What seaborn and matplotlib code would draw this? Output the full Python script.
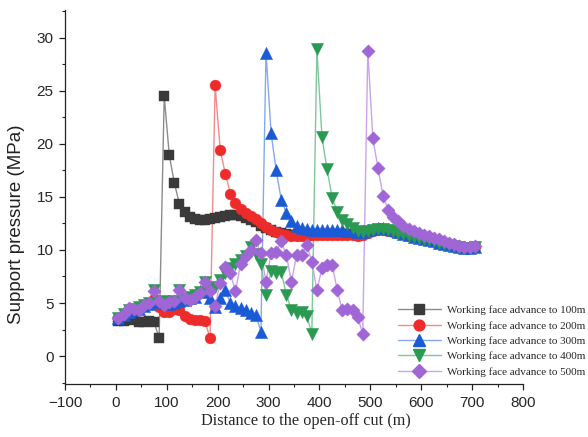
import numpy as np
import pandas as pd
import matplotlib
matplotlib.use("Agg")
import matplotlib.pyplot as plt
from matplotlib.lines import Line2D
from matplotlib.ticker import MultipleLocator
import seaborn as sns

# distance to the open-off cut (m), sampled every 10 m
distance = np.arange(5, 710, 10)

p_100 = [3.3, 3.3, 3.4, 3.5, 3.2, 3.2, 3.3, 3.2, 1.7, 24.5,
         18.9, 16.3, 14.3, 13.6, 13.1, 12.9, 12.8, 12.8, 12.9, 13.0,
         13.1, 13.2, 13.3, 13.3, 13.2, 13.0, 12.8, 12.6, 12.3, 12.1,
         11.9, 11.7, 11.6, 11.5, 11.4, 11.4, 11.4, 11.4, 11.4, 11.5,
         11.5, 11.5, 11.5, 11.5, 11.5, 11.5, 11.5, 11.5, 11.6, 11.8,
         11.9, 12.0, 12.0, 11.9, 11.8, 11.6, 11.5, 11.3, 11.2, 11.1,
         11.0, 10.9, 10.8, 10.7, 10.6, 10.5, 10.4, 10.3, 10.2, 10.2,
         10.3]

p_200 = [3.6, 3.9, 4.1, 4.4, 4.5, 4.7, 4.9, 5.4, 4.6, 4.2,
         4.2, 4.4, 4.3, 3.8, 3.5, 3.4, 3.4, 3.3, 1.7, 25.5,
         19.4, 17.2, 15.3, 14.4, 13.9, 13.5, 13.2, 12.9, 12.5, 12.2,
         11.9, 11.7, 11.5, 11.4, 11.3, 11.3, 11.3, 11.3, 11.4, 11.4,
         11.4, 11.4, 11.4, 11.4, 11.4, 11.4, 11.4, 11.3, 11.4, 11.6,
         11.8, 11.9, 11.9, 11.8, 11.7, 11.6, 11.5, 11.3, 11.2, 11.1,
         11.0, 10.9, 10.8, 10.7, 10.6, 10.5, 10.4, 10.3, 10.2, 10.2,
         10.3]

p_300 = [3.6, 3.9, 4.2, 4.3, 4.4, 4.7, 4.9, 5.2, 5.1, 5.0,
         4.9, 5.0, 5.2, 5.3, 5.5, 5.6, 6.1, 6.0, 5.5, 4.6,
         5.5, 6.2, 5.0, 4.7, 4.5, 4.3, 4.1, 3.9, 2.3, 28.6,
         21.0, 17.5, 14.7, 13.5, 12.7, 12.3, 12.1, 12.0, 11.9, 11.9,
         11.9, 11.9, 11.9, 11.9, 11.9, 11.8, 11.8, 11.7, 11.7, 11.9,
         12.0, 12.1, 12.1, 12.0, 11.9, 11.7, 11.5, 11.4, 11.2, 11.1,
         11.0, 10.9, 10.8, 10.7, 10.6, 10.5, 10.4, 10.3, 10.2, 10.2,
         10.3]

p_400 = [3.6, 4.0, 4.3, 4.4, 4.6, 4.8, 5.0, 6.2, 5.1, 5.2,
         5.1, 5.2, 6.2, 5.4, 5.6, 5.8, 6.0, 7.0, 6.3, 6.5,
         7.2, 7.8, 8.3, 8.7, 9.1, 9.4, 10.3, 9.6, 8.7, 5.8,
         8.0, 7.8, 7.9, 5.8, 4.3, 4.1, 4.2, 3.8, 2.1, 28.9,
         20.6, 17.6, 14.9, 13.6, 12.8, 12.4, 12.1, 11.8, 11.7, 11.8,
         11.9, 12.0, 12.0, 11.9, 11.8, 11.6, 11.5, 11.3, 11.2, 11.1,
         11.0, 10.9, 10.8, 10.7, 10.6, 10.5, 10.4, 10.3, 10.2, 10.2,
         10.3]

p_500 = [3.6, 4.0, 4.5, 4.4, 4.3, 4.8, 5.0, 6.1, 5.2, 4.8,
         5.1, 5.2, 6.2, 5.5, 5.3, 5.6, 5.9, 7.0, 6.1, 4.7,
         6.9, 8.4, 7.8, 6.1, 8.7, 9.4, 10.0, 10.9, 9.7, 7.0,
         9.7, 9.8, 10.8, 9.5, 7.0, 9.5, 9.5, 10.5, 8.9, 6.2,
         8.3, 8.6, 8.6, 6.2, 4.3, 4.4, 4.3, 3.7, 2.1, 28.7,
         20.5, 17.7, 15.1, 13.8, 13.1, 12.7, 12.3, 12.0, 11.8, 11.6,
         11.4, 11.3, 11.1, 11.0, 10.8, 10.7, 10.6, 10.4, 10.3, 10.3,
         10.4]

labels = ["Working face advance to 100m", "Working face advance to 200m",
          "Working face advance to 300m", "Working face advance to 400m",
          "Working face advance to 500m"]
series = [p_100, p_200, p_300, p_400, p_500]

marker_colors = ["#3a3a3a", "#ee2b2b", "#1a5ad6", "#2a9a52", "#a066d6"]
line_colors = ["#8c8c8c", "#f58a8a", "#86a9ec", "#7fc79a", "#c9a4ec"]
markers = ["s", "o", "^", "v", "D"]
msizes = [7.2, 7.8, 8.8, 8.8, 6.8]

sns.set_theme(style="ticks")
plt.rcParams["font.family"] = ["Liberation Sans", "DejaVu Sans"]

fig = plt.figure(figsize=(5.88, 4.37), dpi=100)
ax = fig.add_axes([0.1105, 0.121, 0.779, 0.856])

for vals, lab, mc, lc, mk, ms in zip(series, labels, marker_colors, line_colors, markers, msizes):
    df = pd.DataFrame({"distance": distance, "pressure": vals})
    sns.lineplot(data=df, x="distance", y="pressure", color=lc, linewidth=1.0, ax=ax)
    sns.scatterplot(data=df, x="distance", y="pressure", marker=mk, color=mc,
                    s=ms ** 2, edgecolor=mc, linewidth=0.3, ax=ax, zorder=3)

ax.set_xlim(-100, 800)
ax.set_ylim(-2.64, 32.6)
ax.xaxis.set_major_locator(MultipleLocator(100))
ax.xaxis.set_minor_locator(MultipleLocator(50))
ax.yaxis.set_major_locator(MultipleLocator(5))
ax.yaxis.set_minor_locator(MultipleLocator(2.5))
ax.set_yticks([0, 5, 10, 15, 20, 25, 30])
ax.tick_params(which="major", direction="out", length=4.3, width=0.9, labelsize=11,
               pad=4, color="#222222")
ax.tick_params(which="minor", direction="out", length=2.5, width=0.8, color="#222222")
for side in ["top", "right"]:
    ax.spines[side].set_visible(False)
for side in ["left", "bottom"]:
    ax.spines[side].set_linewidth(0.9)
    ax.spines[side].set_color("#222222")

ax.set_xlabel("Distance to the open-off cut (m)", family=["Liberation Serif"], fontsize=11.7)
ax.xaxis.set_label_coords(0.526, -0.076)
ax.set_ylabel("Support pressure (MPa)", fontsize=13.5, color="#222222")
ax.yaxis.set_label_coords(-0.087, 0.428)

handles = [Line2D([0], [0], color=lc, linewidth=1.0, marker=mk, markersize=ms,
                  markerfacecolor=mc, markeredgecolor=mc)
           for mc, lc, mk, ms in zip(marker_colors, line_colors, markers, msizes)]
ax.legend(handles, labels, loc="lower left", bbox_to_anchor=(0.718, 0.008), frameon=False,
          prop={"family": "Liberation Serif", "size": 8}, handlelength=3.8,
          handletextpad=0.6, labelspacing=0.5, borderaxespad=0)

fig.savefig("out.png", dpi=100)
